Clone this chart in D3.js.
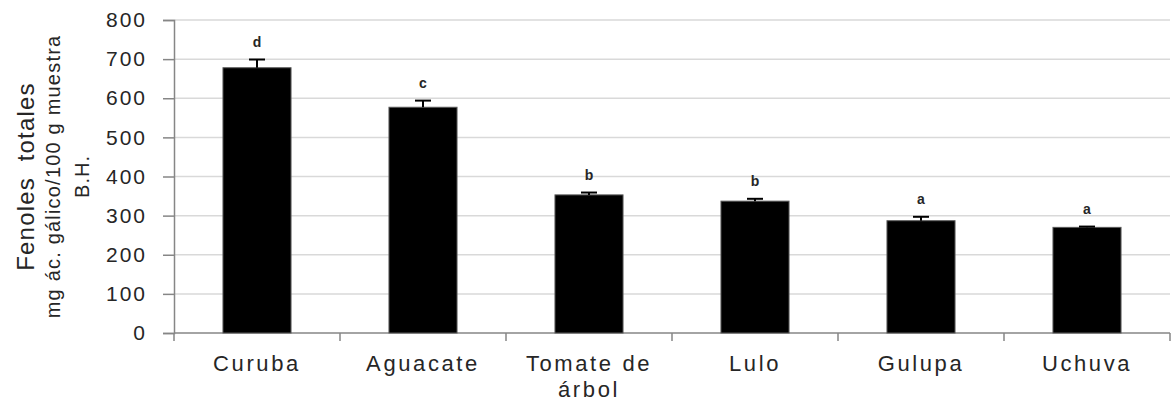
<!DOCTYPE html>
<html>
<head>
<meta charset="utf-8">
<script src="https://cdn.jsdelivr.net/npm/d3@7"></script>
<style>
  body { margin: 0; background: #fff; }
  svg text { font-family: "Liberation Sans", Arial, sans-serif; fill: #262626; }
</style>
</head>
<body>
<div id="chart"></div>
<script>
// fruits and their total phenols (mg ac. galico / 100 g muestra B.H.)
var fruits  = ["Curuba", "Aguacate", "Tomate de árbol", "Lulo", "Gulupa", "Uchuva"];
var values  = [678, 577, 353, 337, 287, 270];
var errors  = [21, 17, 6, 6, 10, 2];
var letters = ["d", "c", "b", "b", "a", "a"];
var yTicks  = [0, 100, 200, 300, 400, 500, 600, 700, 800];

var width = 1176, height = 414;
var margin = {top: 20, right: 6, bottom: 81, left: 174};

var svg = d3.select("#chart").append("svg")
    .attr("width", width)
    .attr("height", height);

var x = d3.scaleBand()
    .domain(fruits)
    .range([margin.left, width - margin.right])
    .paddingInner(0.59)
    .paddingOuter(0.295);

var y = d3.scaleLinear()
    .domain([0, 800])
    .range([height - margin.bottom, margin.top]);

// grid lines
svg.append("g").attr("class", "grid")
    .selectAll("line").data(yTicks.slice(1)).enter().append("line")
    .attr("x1", margin.left).attr("x2", width - margin.right)
    .attr("y1", d => y(d)).attr("y2", d => y(d))
    .attr("stroke", "#d9d9d9").attr("stroke-width", 1.5);

// y axis
var yAxis = svg.append("g")
    .attr("transform", "translate(" + margin.left + ",0)")
    .call(d3.axisLeft(y).tickValues(yTicks).tickSize(11).tickPadding(16));
yAxis.select(".domain").attr("stroke", "#868686").attr("stroke-width", 1.5);
yAxis.selectAll(".tick line").attr("stroke", "#868686").attr("stroke-width", 1.5);
yAxis.selectAll("text")
    .style("font-size", "21px")
    .style("letter-spacing", "2px")
    .style("font-family", "'Liberation Sans', Arial, sans-serif")
    .attr("fill", "#333");

// x axis (ticks at the category boundaries)
var step = x.step();
var bounds = d3.range(fruits.length + 1).map(i => margin.left + i * step);
svg.append("line")
    .attr("x1", margin.left).attr("x2", width - margin.right)
    .attr("y1", y(0)).attr("y2", y(0))
    .attr("stroke", "#868686").attr("stroke-width", 1.5);
svg.append("g").selectAll("line").data(bounds).enter().append("line")
    .attr("x1", d => d).attr("x2", d => d)
    .attr("y1", y(0)).attr("y2", y(0) + 8)
    .attr("stroke", "#868686").attr("stroke-width", 1.5);

// category labels, wrapped on the space for "Tomate de árbol"
svg.append("g").selectAll("text").data(fruits).enter().append("text")
    .attr("x", d => x(d) + x.bandwidth() / 2)
    .attr("y", 371)
    .attr("text-anchor", "middle")
    .style("font-size", "22px")
    .style("letter-spacing", "2.6px")
    .each(function(d) {
        var parts = d == "Tomate de árbol" ? ["Tomate de", "árbol"] : [d];
        var t = d3.select(this);
        parts.forEach(function(p, i) {
            t.append("tspan")
                .attr("x", x(d) + x.bandwidth() / 2)
                .attr("dy", i == 0 ? 0 : 26)
                .text(p);
        });
    });

// bars
svg.append("g").selectAll("rect").data(values).enter().append("rect")
    .attr("x", (d, i) => x(fruits[i]))
    .attr("y", d => y(d))
    .attr("width", x.bandwidth())
    .attr("height", d => y(0) - y(d))
    .attr("fill", "#000")
    .attr("stroke", "#5a5a5a")
    .attr("stroke-width", 1);

// error bars (upper half only)
var eb = svg.append("g");
values.forEach(function(v, i) {
    var cx = x(fruits[i]) + x.bandwidth() / 2;
    eb.append("line")
        .attr("x1", cx).attr("x2", cx)
        .attr("y1", y(v)).attr("y2", y(v + errors[i]))
        .attr("stroke", "#000").attr("stroke-width", 2);
    eb.append("line")
        .attr("x1", cx - 8).attr("x2", cx + 8)
        .attr("y1", y(v + errors[i])).attr("y2", y(v + errors[i]))
        .attr("stroke", "#000").attr("stroke-width", 2);
});

// significance letters
svg.append("g").selectAll("text").data(letters).enter().append("text")
    .attr("x", (d, i) => x(fruits[i]) + x.bandwidth() / 2)
    .attr("y", (d, i) => y(values[i] + errors[i]) - 13)
    .attr("text-anchor", "middle")
    .style("font-size", "14px")
    .style("font-weight", "bold")
    .attr("fill", "#333")
    .text(d => d);

// y axis title
var cy = (y(0) + y(800)) / 2;
var titles = [
    {t: "Fenoles  totales", x: 34, size: 24, ls: 1.2},
    {t: "mg ác. gálico/100 g muestra", x: 60, size: 20, ls: 1.2},
    {t: "B.H.", x: 89, size: 20, ls: 1}
];
svg.append("g").selectAll("text").data(titles).enter().append("text")
    .attr("transform", d => "translate(" + d.x + "," + cy + ") rotate(-90)")
    .attr("text-anchor", "middle")
    .style("font-size", d => d.size + "px")
    .style("letter-spacing", d => d.ls + "px")
    .style("white-space", "pre")
    .text(d => d.t);
</script>
</body>
</html>
